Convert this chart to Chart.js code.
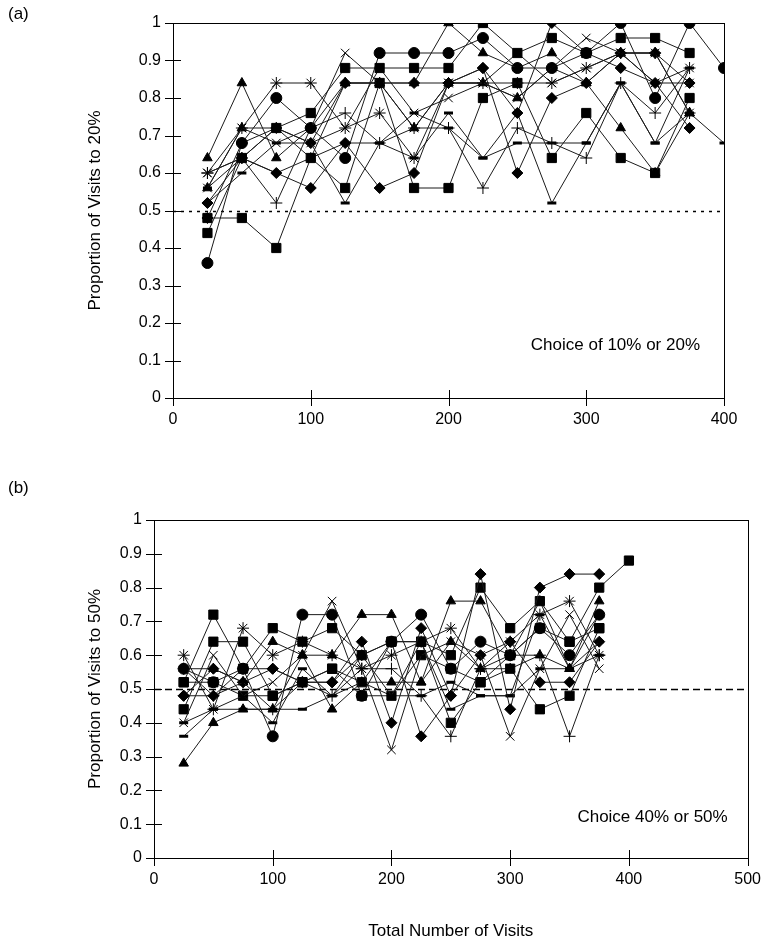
<!DOCTYPE html>
<html>
<head>
<meta charset="utf-8">
<script src="https://cdn.jsdelivr.net/npm/chart.js@4.4.0/dist/chart.umd.min.js"></script>
<style>
  body { margin: 0; background: #fff; }
  #wrap { position: relative; width: 773px; height: 946px; font-family: "Liberation Sans", Arial, sans-serif; }
  canvas { position: absolute; left: 0; }
  .tag { position: absolute; font-size: 17px; color: #000; }
</style>
</head>
<body>
<div id="wrap">
  <canvas id="chartA" width="773" height="450" style="top:0;width:773px;height:450px"></canvas>
  <canvas id="chartB" width="773" height="496" style="top:450px;width:773px;height:496px"></canvas>
  <div class="tag" style="left:8px;top:4px">(a)</div>
  <div class="tag" style="left:8px;top:478px">(b)</div>
</div>
<script>
// total number of visits at each block of 25
const visits = [25, 50, 75, 100, 125, 150, 175, 200, 225, 250, 275, 300, 325, 350, 375, 400];

// (a) proportion of visits to the 20% option
const diamondA1 = [0.52, 0.64, 0.60, 0.56, 0.68, 0.56, 0.60, 0.84, 0.88, 0.76, 1.00, 0.92, 0.88, 0.84, 0.72, null];
const diamondA2 = [0.48, 0.68, 0.72, 0.68, 0.84, 0.84, 0.84, 0.84, 0.88, 0.60, 0.80, 0.84, 0.92, 0.92, 0.84, null];
const squareA1  = [0.44, 0.64, 0.72, 0.76, 0.88, 0.88, 0.88, 0.88, 1.00, 0.92, 0.96, 0.92, 0.96, 0.96, 0.92, null];
const squareA2  = [0.48, 0.48, 0.40, 0.64, 0.56, 0.84, 0.56, 0.56, 0.80, 0.84, 0.64, 0.76, 0.64, 0.60, 0.80, null];
const triangleA1 = [0.64, 0.84, 0.64, 0.72, 0.84, 0.84, 0.84, 1.00, 0.92, 0.88, 0.92, 0.84, 0.72, 0.60, 0.76, null];
const triangleA2 = [0.56, 0.72, 0.72, 0.64, 0.84, 0.84, 0.72, 0.84, 0.84, 0.80, 0.88, 0.84, 0.92, 0.92, 0.76, null];
const crossA1   = [0.56, 0.72, 0.68, 0.72, 0.92, 0.84, 0.72, 0.84, 0.84, 0.80, 0.88, 0.96, 0.92, 0.84, 0.84, null];
const crossA2   = [0.60, 0.64, 0.72, 0.68, 0.72, 0.88, 0.76, 0.80, 0.84, 0.92, 0.84, 0.88, 0.92, 0.84, 0.88, null];
const starA1    = [0.60, 0.72, 0.84, 0.84, 0.72, 0.76, 0.64, 0.84, 0.84, 0.84, 0.84, 0.88, 0.92, 0.92, 0.76, null];
const circleA1  = [0.36, 0.68, 0.80, 0.72, 0.64, 0.92, 0.92, 0.92, 0.96, 0.88, 0.88, 0.92, 1.00, 0.80, 1.00, 0.88];
const plusA1    = [0.60, 0.64, 0.52, 0.72, 0.76, 0.68, 0.72, 0.72, 0.56, 0.72, 0.68, 0.64, 0.84, 0.76, 0.88, null];
const dashA1    = [0.52, 0.60, 0.68, 0.68, 0.52, 0.68, 0.76, 0.72, 0.64, 0.76, 0.52, 0.68, 0.84, 0.68, 0.76, 0.68];
const dashA2    = [0.56, 0.64, 0.60, 0.64, 0.68, 0.68, 0.64, 0.76, 0.64, 0.68, 0.68, 0.68, 0.84, 0.68, 0.88, null];

// (b) proportion of visits to the 50% option
const squareB1  = [0.52, 0.72, 0.56, 0.68, 0.64, 0.68, 0.60, 0.64, 0.64, 0.60, 0.80, 0.68, 0.76, 0.64, 0.80, 0.88];
const squareB2  = [0.44, 0.64, 0.64, 0.48, 0.52, 0.56, 0.52, 0.64, 0.64, 0.40, 0.52, 0.56, 0.44, 0.48, 0.68, null];
const squareB3  = [0.52, 0.52, 0.48, 0.48, 0.52, 0.56, 0.48, 0.48, 0.60, 0.56, 0.52, 0.60, 0.68, 0.64, 0.68, null];
const triangleB1 = [0.28, 0.40, 0.44, 0.44, 0.60, 0.60, 0.72, 0.72, 0.52, 0.76, 0.76, 0.60, 0.76, 0.56, 0.76, null];
const triangleB2 = [0.56, 0.56, 0.52, 0.64, 0.60, 0.44, 0.52, 0.52, 0.52, 0.64, 0.56, 0.56, 0.60, 0.56, 0.72, null];
const circleB1  = [0.56, 0.52, 0.56, 0.36, 0.72, 0.72, 0.48, 0.64, 0.72, 0.56, 0.64, 0.60, 0.68, 0.60, 0.72, null];
const diamondB1 = [0.48, 0.48, 0.56, 0.56, 0.52, 0.52, 0.64, 0.40, 0.68, 0.48, 0.84, 0.44, 0.80, 0.84, 0.84, null];
const diamondB2 = [0.48, 0.56, 0.52, 0.56, 0.52, 0.52, 0.60, 0.64, 0.36, 0.48, 0.60, 0.64, 0.52, 0.52, 0.64, null];
const crossB1   = [0.40, 0.60, 0.48, 0.52, 0.60, 0.76, 0.56, 0.32, 0.60, 0.64, 0.60, 0.36, 0.56, 0.72, 0.56, null];
const starB1    = [0.60, 0.44, 0.68, 0.60, 0.64, 0.60, 0.56, 0.60, 0.64, 0.68, 0.56, 0.64, 0.72, 0.76, 0.60, null];
const plusB1    = [0.56, 0.48, 0.52, 0.44, 0.52, 0.48, 0.56, 0.56, 0.48, 0.36, 0.56, 0.60, 0.60, 0.36, 0.60, null];
const dashB1    = [0.36, 0.44, 0.48, 0.40, 0.56, 0.48, 0.60, 0.48, 0.64, 0.44, 0.48, 0.48, 0.72, 0.56, 0.64, null];
const dashB2    = [0.40, 0.44, 0.44, 0.44, 0.44, 0.48, 0.52, 0.48, 0.48, 0.52, 0.48, 0.48, 0.56, 0.56, 0.60, null];

const chance = 0.5;
const yTicks = [0, 0.1, 0.2, 0.3, 0.4, 0.5, 0.6, 0.7, 0.8, 0.9, 1];

const markers = {
  diamond:  { pointStyle: "rectRot", pointRadius: 5.5, pointBorderWidth: 1 },
  square:   { pointStyle: "rect", pointRadius: 6.5, pointBorderWidth: 1 },
  triangle: { pointStyle: "triangle", pointRadius: 5.5, pointBorderWidth: 1 },
  cross:    { pointStyle: "crossRot", pointRadius: 6, pointBorderWidth: 1 },
  star:     { pointStyle: "star", pointRadius: 6, pointBorderWidth: 1 },
  circle:   { pointStyle: "circle", pointRadius: 5.5, pointBorderWidth: 1 },
  plus:     { pointStyle: "cross", pointRadius: 6, pointBorderWidth: 1 },
  dash:     { pointStyle: "line", pointRadius: 4.5, pointBorderWidth: 3 }
};

function series(values, kind) {
  const pts = [];
  values.forEach((v, i) => { if (v !== null) pts.push({ x: visits[i], y: v }); });
  return Object.assign({
    data: pts,
    showLine: true,
    borderColor: "#1a1a1a",
    borderWidth: 1,
    pointBackgroundColor: "#000",
    pointBorderColor: "#000",
    pointHoverRadius: 0
  }, markers[kind]);
}

// frame, crossing ticks, the 50% line and the inner caption
const framePlugin = {
  id: "frame",
  beforeDatasetsDraw(chart, args, opts) {
    const { ctx, chartArea: a, scales: { y } } = chart;
    const py = Math.round(y.getPixelForValue(chance)) + 0.5;
    ctx.save();
    ctx.strokeStyle = "#000";
    ctx.lineWidth = 1.3;
    ctx.setLineDash(opts.dash);
    ctx.beginPath();
    ctx.moveTo(a.left, py);
    ctx.lineTo(a.right, py);
    ctx.stroke();
    ctx.restore();
  },
  afterDraw(chart, args, opts) {
    const { ctx, chartArea: a, scales: { x, y } } = chart;
    ctx.save();
    ctx.strokeStyle = "#000";
    ctx.lineWidth = 1;
    ctx.strokeRect(Math.round(a.left) + 0.5, Math.round(a.top) + 0.5,
      Math.round(a.right - a.left), Math.round(a.bottom - a.top));
    ctx.beginPath();
    y.ticks.forEach(t => {
      const p = Math.round(y.getPixelForValue(t.value)) + 0.5;
      ctx.moveTo(a.left - 8, p); ctx.lineTo(a.left + 8, p);
    });
    x.ticks.forEach(t => {
      const p = Math.round(x.getPixelForValue(t.value)) + 0.5;
      ctx.moveTo(p, a.bottom - 8); ctx.lineTo(p, a.bottom + 8);
    });
    ctx.stroke();
    ctx.fillStyle = "#000";
    ctx.font = '17px "Liberation Sans", Arial, sans-serif';
    ctx.textAlign = "right";
    ctx.textBaseline = "middle";
    ctx.fillText(opts.caption, a.right - opts.captionRight, y.getPixelForValue(opts.captionAt));
    ctx.restore();
  }
};

const tickFont = { family: '"Liberation Sans", Arial, sans-serif', size: 16 };
const titleFont = { family: '"Liberation Sans", Arial, sans-serif', size: 17 };

function makeChart(id, datasets, o) {
  return new Chart(document.getElementById(id), {
    type: "scatter",
    data: { datasets },
    plugins: [framePlugin],
    options: {
      responsive: false,
      animation: false,
      events: [],
      layout: { padding: { left: o.padLeft, right: o.padRight, top: o.padTop, bottom: 0 } },
      plugins: {
        legend: { display: false },
        tooltip: { enabled: false },
        frame: { dash: o.dash, caption: o.caption, captionAt: o.captionAt, captionRight: o.captionRight }
      },
      scales: {
        x: {
          type: "linear",
          min: 0, max: o.xMax,
          afterBuildTicks: s => { s.ticks = o.xTicks.map(v => ({ value: v })); },
          afterFit: s => { s.height = o.xHeight; },
          grid: { display: false, drawTicks: false },
          border: { display: false },
          ticks: { color: "#000", font: tickFont, padding: 12, maxRotation: 0 },
          title: { display: !!o.xTitle, text: o.xTitle, color: "#000", font: titleFont, padding: { top: 12 } }
        },
        y: {
          min: 0, max: 1,
          afterBuildTicks: s => { s.ticks = yTicks.map(v => ({ value: v })); },
          afterFit: s => { s.width = o.yWidth; },
          grid: { display: false, drawTicks: false },
          border: { display: false },
          ticks: { color: "#000", font: tickFont, padding: 12, callback: v => String(Math.round(v * 10) / 10) },
          title: { display: true, text: o.yTitle, color: "#000", font: titleFont, padding: 0 }
        }
      }
    }
  });
}

makeChart("chartA", [
  series(diamondA1, "diamond"), series(squareA1, "square"), series(triangleA1, "triangle"),
  series(crossA1, "cross"), series(starA1, "star"), series(circleA1, "circle"),
  series(plusA1, "plus"), series(dashA1, "dash"), series(diamondA2, "diamond"),
  series(squareA2, "square"), series(triangleA2, "triangle"), series(crossA2, "cross"),
  series(dashA2, "dash")
], {
  padLeft: 85, yWidth: 88, padRight: 49, padTop: 23, xHeight: 52,
  xMax: 400, xTicks: [0, 100, 200, 300, 400],
  yTitle: "Proportion of Visits to 20%", xTitle: "",
  dash: [3, 5], caption: "Choice of 10% or 20%", captionAt: 0.14, captionRight: 24
});

makeChart("chartB", [
  series(diamondB1, "diamond"), series(squareB1, "square"), series(triangleB1, "triangle"),
  series(crossB1, "cross"), series(starB1, "star"), series(circleB1, "circle"),
  series(plusB1, "plus"), series(dashB1, "dash"), series(diamondB2, "diamond"),
  series(squareB2, "square"), series(triangleB2, "triangle"), series(squareB3, "square"),
  series(dashB2, "dash")
], {
  padLeft: 85, yWidth: 69, padRight: 22, padTop: 70, xHeight: 88,
  xMax: 500, xTicks: [0, 100, 200, 300, 400, 500],
  yTitle: "Proportion of Visits to 50%", xTitle: "Total Number of Visits",
  dash: [7, 4], caption: "Choice 40% or 50%", captionAt: 0.12, captionRight: 20
});
</script>
</body>
</html>
